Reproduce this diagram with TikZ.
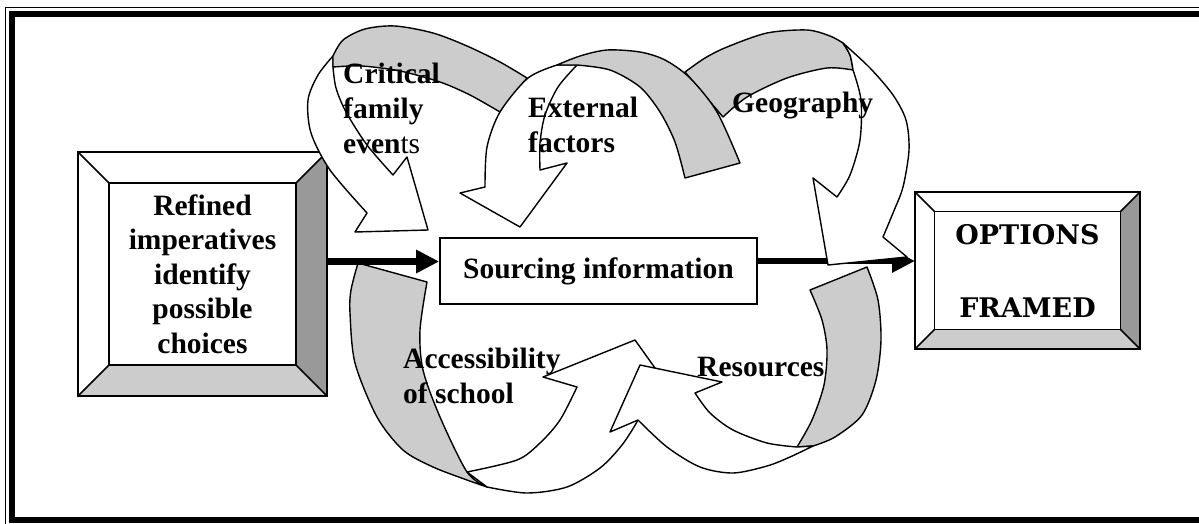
\documentclass[tikz,border=0pt]{standalone}
\usepackage{fontspec}
\setmainfont{Liberation Serif}
\newfontfamily\optfont{DejaVu Serif}
\usetikzlibrary{arrows.meta,calc}
\definecolor{backgray}{HTML}{CCCCCC}
\definecolor{bevdark}{HTML}{999999}
\definecolor{bevlight}{HTML}{CCCCCC}
\newcommand{\bevelframe}[2]{%
  \coordinate (#1-a) at ($(#1.north west)+(#2,#2)$);
  \coordinate (#1-b) at ($(#1.north east)+(-#2,#2)$);
  \coordinate (#1-c) at ($(#1.south east)+(-#2,-#2)$);
  \coordinate (#1-d) at ($(#1.south west)+(#2,-#2)$);
  \fill[bevdark] (#1.north east) -- (#1.south east) -- (#1-c) -- (#1-b) -- cycle;
  \fill[bevlight] (#1.south west) -- (#1.south east) -- (#1-c) -- (#1-d) -- cycle;
  \draw[boxline] (#1.north west) rectangle (#1.south east);
  \draw[boxline] (#1-a) rectangle (#1-c);
  \draw[boxline] (#1.north west) -- (#1-a) (#1.north east) -- (#1-b)
                 (#1.south east) -- (#1-c) (#1.south west) -- (#1-d);
}
\begin{document}
\begin{tikzpicture}[x=1pt,y=-1pt,
  lbl/.style={font=\fontsize{29.5}{35}\selectfont\bfseries, inner sep=0pt, align=left, anchor=north west},
  back/.style={fill=backgray, draw=black, line width=1.4pt, line join=round},
  front/.style={fill=white, draw=black, line width=1.4pt, line join=round},
  bigarrow/.style={line width=6.5pt, -{Triangle[length=23pt,width=22pt]}},
  boxline/.style={draw=black, line width=1.6pt, line join=miter},
  bevelbox/.style={inner sep=0pt, outer sep=0pt, align=center},
]
\useasboundingbox (0,0) rectangle (1199,523);
\clip (0,0) rectangle (1199,523);
\fill[white] (0,0) rectangle (1199,523);
% frame
\draw[line width=1.2pt] (5.5,7.5) rectangle (1220,530);
\draw[line width=6pt] (12,14) rectangle (1215,520);

% boxes
\node[bevelbox, minimum width=249pt, minimum height=244pt,
      font=\fontsize{29.5}{34.5}\selectfont\bfseries] (refined) at (202.5,274)
      {Refined\\imperatives\\identify\\possible\\choices};
\bevelframe{refined}{31}
\node[bevelbox, minimum width=225pt, minimum height=157pt,
      font=\optfont\fontsize{27}{36.5}\selectfont\bfseries] (options) at (1027.5,270.5)
      {OPTIONS\\[36.5pt]FRAMED};
\bevelframe{options}{19.5}
\node[draw, line width=1.6pt, minimum width=317pt, minimum height=66pt,
      font=\fontsize{29.5}{35}\selectfont\bfseries] (sourcing) at (598.5,271)
      {Sourcing information};

\draw[bigarrow] ([yshift=10pt]sourcing.east) -- ([yshift=9.5pt]options.west);

% Critical family events
\draw[front] plot[smooth] coordinates {(333,56) (318,75) (308,100) (311,133) (330,170) (367,213)}
  -- (355,232) -- (428,230) -- (407,157) -- (393,175)
  -- plot[smooth] coordinates {(393,175) (367,145) (346,112) (336,88) (333,67)} -- cycle;
\draw[back] plot[smooth] coordinates {(333,56) (343,40) (365,29) (395,26) (433,33) (467,46) (500,62) (527,78)}
  -- (500,112)
  -- plot[smooth] coordinates {(500,112) (470,95) (440,82) (400,71) (362,66) (333,67)} -- cycle;

% Geography
\draw[back] plot[smooth] coordinates {(685,72) (705,58) (727,47) (767,33) (807,30) (830,36) (843,43)}
  -- plot[smooth] coordinates {(843,43) (850,55) (853,70)}
  -- plot[smooth] coordinates {(853,70) (827,68) (787,78) (747,97) (723,117)} -- cycle;
\draw[front] plot[smooth] coordinates {(843,43) (870,68) (893,95) (906,120) (909,150) (903,187) (893,213) (883,237)}
  -- (907,257) -- (828,265) -- (813,178) -- (837,197)
  -- plot[smooth] coordinates {(837,197) (850,175) (860,140) (861,100) (853,70)}
  -- plot[smooth] coordinates {(853,70) (850,55) (843,43)} -- cycle;

% External factors
\draw[front] plot[smooth] coordinates {(557,65) (528,78) (500,112) (487,147) (485,187)}
  -- (460,193) -- (520,227) -- (567,163) -- (540,170)
  -- plot[smooth] coordinates {(540,170) (540,143) (545,115) (558,87) (577,65)} -- cycle;
\draw[back] plot[smooth] coordinates {(557,65) (580,56) (607,50) (640,52) (665,60) (690,78) (717,112) (740,163)}
  -- (685,178)
  -- plot[smooth] coordinates {(685,178) (675,142) (660,112) (640,87) (610,70) (577,65)} -- cycle;

% Accessibility of school
\draw[back] plot[smooth] coordinates {(358,263) (351,290) (350,313) (355,363) (377,417) (403,450) (433,467) (467,480) (487,487)}
  -- plot[smooth] coordinates {(487,487) (467,472) (440,417) (423,370) (420,330) (427,282)} -- cycle;
\draw[front] (467,472)
  -- plot[smooth] coordinates {(487,487) (527,493) (567,487) (600,468) (622,445) (638,420) (648,398)}
  -- (660,375) -- (635,340) -- (543,377) -- (577,387)
  -- plot[smooth] coordinates {(577,387) (560,420) (540,443) (517,460) (467,472)} -- cycle;

% Resources
\draw[back] (810,290)
  -- plot[smooth] coordinates {(867,267) (878,300) (881,340) (876,380) (862,415) (835,437) (813,446)}
  -- (797,447)
  -- plot[smooth] coordinates {(797,447) (812,420) (824,385) (827,350) (822,320) (810,290)} -- cycle;
\draw[front] plot[smooth] coordinates {(813,446) (790,457) (767,466) (733,473) (700,467) (667,447) (638,420)}
  -- (610,432) -- (640,365) -- (722,382) -- (695,393)
  -- plot[smooth] coordinates {(695,393) (710,413) (733,430) (767,443) (797,447)} -- cycle;

\draw[bigarrow] ([yshift=12.5pt]refined.east) -- ([yshift=9.5pt]sourcing.west);

% labels
\node[lbl] (critical) at (343,63) {Critical\\family\\even{\mdseries ts}};
\node[lbl] (external) at (528,97) {External\\factors};
\node[lbl] (geography) at (732,92) {Geography};
\node[lbl] (access) at (403,348) {Accessibility\\of school};
\node[lbl] (resources) at (697,357) {Resources};
\end{tikzpicture}
\end{document}
